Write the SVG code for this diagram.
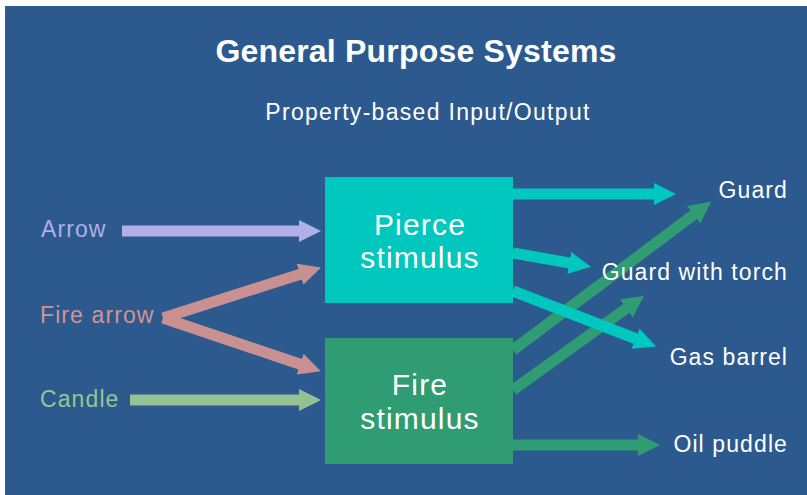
<svg xmlns="http://www.w3.org/2000/svg" width="807" height="495" viewBox="0 0 807 495">
<style>
text{font-family:"Liberation Sans",Arial,sans-serif;}
.title{font-size:32px;font-weight:bold;fill:#ffffff;text-anchor:middle;letter-spacing:0.2px;}
.sub{font-size:23px;fill:#ffffff;text-anchor:middle;letter-spacing:1.3px;}
.lbl{font-size:23px;letter-spacing:1.1px;}
.out{font-size:23px;fill:#ffffff;text-anchor:end;letter-spacing:1.1px;}
.box{font-size:30px;fill:#ffffff;text-anchor:middle;letter-spacing:1.2px;}
.c line{stroke-width:11;fill:none;}
</style>
<defs>
<marker id="hLav" viewBox="0 -11 22 22" markerWidth="22" markerHeight="22" refX="1" refY="0" markerUnits="userSpaceOnUse" orient="auto"><path d="M0,-11 L22,0 L0,11 Z" fill="#B1AEE8"/></marker>
<marker id="hPink" viewBox="0 -11 22 22" markerWidth="22" markerHeight="22" refX="1" refY="0" markerUnits="userSpaceOnUse" orient="auto"><path d="M0,-11 L22,0 L0,11 Z" fill="#C89090"/></marker>
<marker id="hLgreen" viewBox="0 -11 22 22" markerWidth="22" markerHeight="22" refX="1" refY="0" markerUnits="userSpaceOnUse" orient="auto"><path d="M0,-11 L22,0 L0,11 Z" fill="#96C193"/></marker>
<marker id="hTeal" viewBox="0 -11 22 22" markerWidth="22" markerHeight="22" refX="1" refY="0" markerUnits="userSpaceOnUse" orient="auto"><path d="M0,-11 L22,0 L0,11 Z" fill="#00C8BE"/></marker>
<marker id="hGreen" viewBox="0 -11 22 22" markerWidth="22" markerHeight="22" refX="1" refY="0" markerUnits="userSpaceOnUse" orient="auto"><path d="M0,-11 L22,0 L0,11 Z" fill="#2F9C73"/></marker>
</defs>
<rect x="0" y="0" width="807" height="495" fill="#ffffff"/>
<rect x="5" y="6" width="802" height="489" fill="#2C5A8E"/>
<text class="title" x="416" y="62">General Purpose Systems</text>
<text class="sub" x="428" y="120">Property-based Input/Output</text>

<g id="pierce">
<rect x="325" y="177" width="188" height="126" fill="#00C8BE"/>
<text class="box" x="420" y="235">Pierce</text>
<text class="box" x="420" y="268">stimulus</text>
</g>
<g id="fire">
<rect x="325" y="338" width="188" height="126" fill="#2F9C73"/>
<text class="box" x="420" y="395">Fire</text>
<text class="box" x="420" y="429">stimulus</text>
</g>

<g class="c" id="connectors">
<line x1="122" y1="231" x2="300" y2="231" stroke="#B1AEE8" stroke-width="10" marker-end="url(#hLav)"/>
<line x1="163" y1="318" x2="301" y2="274" stroke="#C89090" stroke-width="10" marker-end="url(#hPink)"/>
<line x1="163" y1="318" x2="301" y2="364.5" stroke="#C89090" stroke-width="10" marker-end="url(#hPink)"/>
<line x1="130" y1="400" x2="300" y2="400" stroke="#96C193" stroke-width="10" marker-end="url(#hLgreen)"/>
<line x1="513" y1="350" x2="694.4" y2="214.2" stroke="#2F9C73" marker-end="url(#hGreen)"/>
<line x1="513" y1="390" x2="627.1" y2="307.9" stroke="#2F9C73" marker-end="url(#hGreen)"/>
<line x1="513" y1="445" x2="639" y2="445" stroke="#2F9C73" marker-end="url(#hGreen)"/>
<line x1="513" y1="194" x2="655" y2="194" stroke="#00C8BE" marker-end="url(#hTeal)"/>
<line x1="513" y1="253" x2="570.3" y2="263.1" stroke="#00C8BE" marker-end="url(#hTeal)"/>
<line x1="513" y1="291" x2="636.5" y2="339" stroke="#00C8BE" marker-end="url(#hTeal)"/>
</g>

<g id="in-arrow"><text class="lbl" x="41" y="237" fill="#B1AEE8">Arrow</text></g>
<g id="in-firearrow"><text class="lbl" x="40" y="323" fill="#D09594">Fire arrow</text></g>
<g id="in-candle"><text class="lbl" x="40" y="407" fill="#97C494">Candle</text></g>
<g id="out-guard"><text class="out" x="788" y="198">Guard</text></g>
<g id="out-guardtorch"><text class="out" x="788" y="280">Guard with torch</text></g>
<g id="out-gas"><text class="out" x="788" y="365">Gas barrel</text></g>
<g id="out-oil"><text class="out" x="788" y="452">Oil puddle</text></g>
</svg>
